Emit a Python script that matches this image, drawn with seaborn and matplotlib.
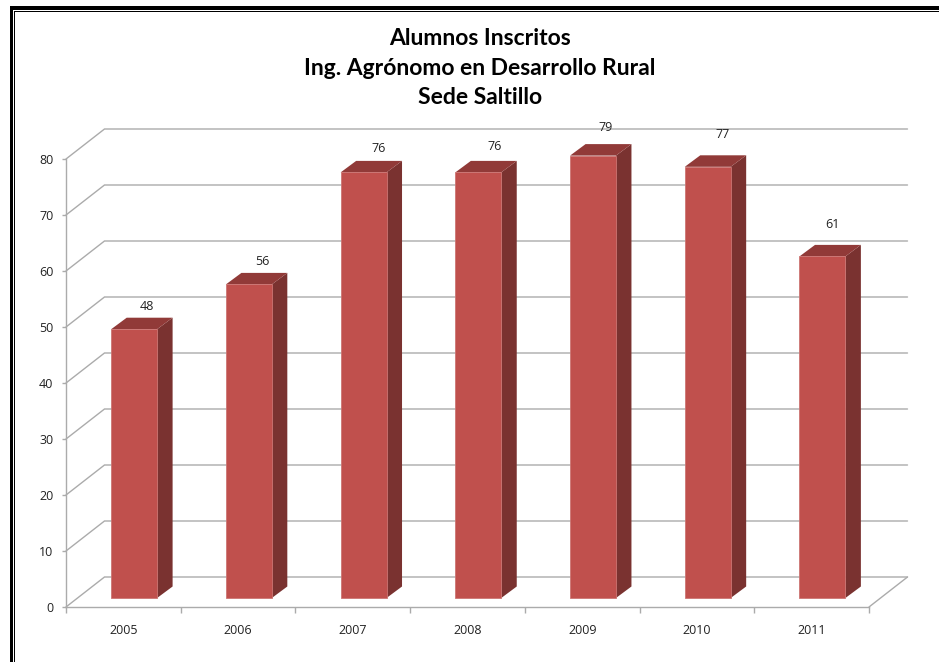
import matplotlib
matplotlib.use("Agg")
import matplotlib.pyplot as plt
import matplotlib.transforms as mtrans
from matplotlib.patches import Polygon, Rectangle
import pandas as pd
import seaborn as sns

years = ["2005", "2006", "2007", "2008", "2009", "2010", "2011"]
alumnos = [48, 56, 76, 76, 79, 77, 61]
y_ticks = [0, 10, 20, 30, 40, 50, 60, 70, 80]
title_lines = ["Alumnos Inscritos", "Ing. Agrónomo en Desarrollo Rural", "Sede Saltillo"]

# label placement in pixels relative to the bar's front top centre
label_dx = [13, 14, 15, 16, 13, 15, 10]
label_dy = [23, 23, 24, 26, 28, 32, 32]

W, H = 939, 662
FRONT, TOP, SIDE = "#C0504D", "#913A38", "#7A3230"
EDGE = "#CC7573"
GRID = "#ABABAB"
TICK_FONT = 9

sns.set_theme(style="white")
plt.rcParams["font.family"] = ["Open Sans", "DejaVu Sans"]

fig = plt.figure(figsize=(W / 100, H / 100), dpi=100, facecolor="white")
L, R, T, B = 66, 869, 159, 607
ax = fig.add_axes([L / W, 1 - B / H, (R - L) / W, (B - T) / H])
ax.patch.set_alpha(0)

df = pd.DataFrame({"Año": years, "Alumnos": alumnos})
sns.barplot(data=df, x="Año", y="Alumnos", order=years, color=FRONT, saturation=1,
            width=0.4, errorbar=None, linewidth=0.6, edgecolor=EDGE, ax=ax, zorder=3)
ax.set_xlim(-0.5, len(years) - 0.5)
ax.set_ylim(0, 80)
ax.set_xlabel("")
ax.set_ylabel("")

# pixel-to-data factors
px_x = (len(years)) / (R - L)
px_y = 80 / (B - T)

# wall depth and bar placement inside the 3D floor
wall_dx, wall_dy = 38.5 * px_x, 30 * px_y
bar_dx, bar_dy = 10.8 * px_x, 9 * px_y
depth_dx, depth_dy = 15.5 * px_x, 11.5 * px_y

# back-wall grid lines with diagonals towards the front axis
x0, x1 = ax.get_xlim()
for v in y_ticks:
    ax.plot([x0, x0 + wall_dx, x1 + wall_dx], [v, v + wall_dy, v + wall_dy],
            color=GRID, lw=1.0, clip_on=False, zorder=1, solid_joinstyle="miter")
ax.plot([x1, x1 + wall_dx], [0, wall_dy], color=GRID, lw=1.0, clip_on=False, zorder=1)

shift = mtrans.Affine2D().translate(bar_dx, bar_dy) + ax.transData
for i, p in enumerate(list(ax.patches)):
    p.set_transform(shift)
    p.set_clip_on(False)
    xa, xb = p.get_x(), p.get_x() + p.get_width()
    v = p.get_height()
    ax.add_patch(Polygon([(xb, 0), (xb + depth_dx, depth_dy), (xb + depth_dx, v + depth_dy), (xb, v)],
                         closed=True, fc=SIDE, ec="none", transform=shift, clip_on=False, zorder=2.9))
    ax.add_patch(Polygon([(xa, v), (xa + depth_dx, v + depth_dy), (xb + depth_dx, v + depth_dy), (xb, v)],
                         closed=True, fc=TOP, ec="none", transform=shift, clip_on=False, zorder=2.9))
    ax.annotate(str(alumnos[i]), xy=((xa + xb) / 2 + bar_dx, v + bar_dy),
                xytext=(label_dx[i] * 0.72, label_dy[i] * 0.72), textcoords="offset points",
                ha="center", va="center", fontsize=TICK_FONT, color="#222222", zorder=5,
                annotation_clip=False)

# axes
for s in ("top", "right"):
    ax.spines[s].set_visible(False)
for s in ("left", "bottom"):
    ax.spines[s].set_color(GRID)
    ax.spines[s].set_linewidth(1.0)
    ax.spines[s].set_zorder(2)
ax.set_yticks(y_ticks)
ax.set_xticks([i - 0.5 for i in range(len(years) + 1)], minor=True)
ax.tick_params(axis="x", which="major", length=0, pad=12, labelsize=TICK_FONT, labelcolor="#222222")
ax.tick_params(axis="x", which="minor", length=4, width=1, color=GRID, bottom=True)
ax.tick_params(axis="y", which="major", left=True, length=3, width=1, color=GRID, pad=6,
               labelsize=TICK_FONT, labelcolor="#222222")

for base, line in zip([45, 75, 104], title_lines):
    fig.text(480 / W, 1 - base / H, line, ha="center", va="baseline", fontsize=16.5,
             fontweight="bold", color="black", family=["Lato", "DejaVu Sans"])

# double black frame on the left and top of the picture
for (x, y, w, h) in [(9.5, 6, 3.5, H - 6), (9.5, 6, W - 9.5, 4), (14, 11, 1, H - 11), (14, 11, W - 14, 1)]:
    fig.add_artist(Rectangle((x / W, 1 - (y + h) / H), w / W, h / H, transform=fig.transFigure,
                             fc="black", ec="none"))

fig.savefig("out.png", dpi=100, facecolor="white")
